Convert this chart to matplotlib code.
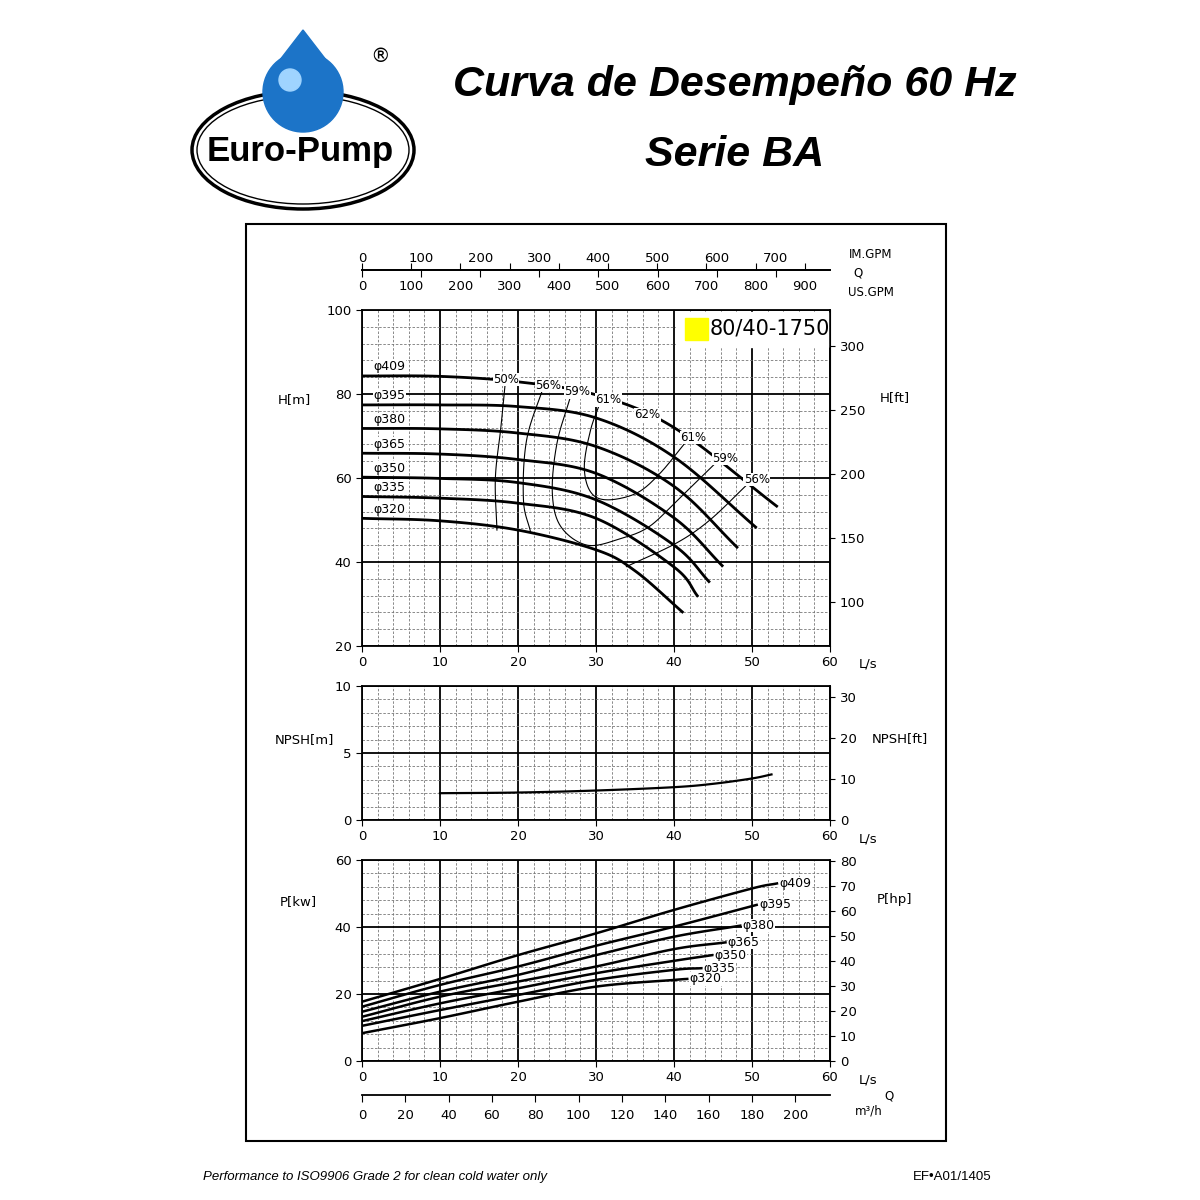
import numpy as np
import matplotlib
matplotlib.use("Agg")
import matplotlib.pyplot as plt
from matplotlib.patches import Ellipse, Rectangle, Polygon, Circle
from matplotlib.ticker import MultipleLocator

plt.rcParams['font.family'] = ['DejaVu Sans']

diameters = ["φ409", "φ395", "φ380", "φ365", "φ350", "φ335", "φ320"]
head_q = [
    [0, 10, 20, 30, 40, 53.3],
    [0, 10, 20, 30, 40, 50.6],
    [0, 10, 20, 30, 40, 48.2],
    [0, 10, 20, 30, 40, 46.3],
    [0, 10, 20, 30, 40, 44.6],
    [0, 10, 20, 30, 40, 43.1],
    [0, 10, 20, 30, 35, 41.2],
]
head_h = [
    [84.3, 84.2, 82.9, 79.8, 72.0, 53.1],
    [77.4, 77.4, 77.0, 74.3, 65.0, 48.1],
    [71.8, 71.7, 70.7, 67.5, 58.0, 43.3],
    [65.9, 65.7, 64.4, 61.1, 50.5, 38.9],
    [60.2, 59.9, 58.9, 54.8, 44.0, 35.1],
    [55.6, 55.2, 54.0, 50.4, 38.8, 31.7],
    [50.4, 49.8, 47.6, 42.9, 37.9, 27.9],
]
eff_lines_q = [
    [18.4, 17.8, 17.1, 17.3],
    [23.3, 21.1, 20.7, 21.6],
    [26.8, 25.0, 24.4, 25.5, 28.9, 33.2, 36.8, 40.5, 45.3],
    [30.5, 29.3, 28.5, 29.3, 31.4, 35.2, 38.2, 41.4],
    [49.3, 44.6, 40.3, 33.9],
]
eff_lines_h = [
    [83.3, 72.0, 60.0, 47.6],
    [81.9, 69.0, 54.8, 47.2],
    [79.8, 68.3, 56.4, 48.4, 44.0, 45.6, 48.4, 54.8, 63.5],
    [77.8, 71.4, 62.7, 56.7, 54.8, 56.4, 61.1, 68.3],
    [58.3, 50.0, 44.5, 38.9],
]
eff_labels = ["50%", "56%", "59%", "61%", "62%", "61%", "59%", "56%"]
eff_label_q = [18.5, 23.9, 27.6, 31.6, 36.6, 42.5, 46.6, 50.6]
eff_label_h = [83.5, 82.0, 80.5, 78.6, 75.0, 69.6, 64.6, 59.6]

npsh_q = [10, 20, 30, 40, 45, 50, 52.5]
npsh_m = [2.0, 2.05, 2.2, 2.45, 2.7, 3.1, 3.4]

power_q = [
    [0, 10, 20, 30, 40, 50, 53.2],
    [0, 10, 20, 30, 40, 50.6],
    [0, 10, 20, 30, 40, 48.5],
    [0, 10, 20, 30, 40, 46.6],
    [0, 10, 20, 30, 40, 44.9],
    [0, 10, 20, 30, 40, 43.5],
    [0, 10, 20, 30, 40, 41.7],
]
power_kw = [
    [17.7, 24.5, 31.6, 38.1, 45.1, 51.5, 53.0],
    [16.2, 22.7, 28.2, 34.4, 40.1, 46.6],
    [14.7, 20.7, 25.7, 31.6, 37.1, 40.4],
    [13.2, 19.2, 23.7, 28.2, 33.4, 35.4],
    [11.9, 17.2, 21.7, 26.2, 29.9, 31.6],
    [10.5, 15.2, 19.7, 24.2, 27.2, 27.7],
    [8.3, 12.8, 17.7, 22.2, 24.2, 24.5],
]


def smooth(x, y, n=20):
    """Catmull-Rom rendering through the given points (drawing only)."""
    x = np.asarray(x, float); y = np.asarray(y, float)
    if len(x) < 3:
        return x, y
    P = np.column_stack([x, y])
    P = np.vstack([2 * P[0] - P[1], P, 2 * P[-1] - P[-2]])
    out = []
    t = np.linspace(0, 1, n, endpoint=False)[:, None]
    for i in range(1, len(P) - 2):
        p0, p1, p2, p3 = P[i - 1], P[i], P[i + 1], P[i + 2]
        seg = 0.5 * ((2 * p1) + (-p0 + p2) * t + (2 * p0 - 5 * p1 + 4 * p2 - p3) * t ** 2
                     + (-p0 + 3 * p1 - 3 * p2 + p3) * t ** 3)
        out.append(seg)
    out.append(P[-2][None, :])
    out = np.vstack(out)
    return out[:, 0], out[:, 1]


fig = plt.figure(figsize=(12, 12), dpi=100)
W = H = 1200.0

def fx(px): return px / W
def fy(py): return 1 - py / H

fig.patches.append(Rectangle((fx(246), fy(1141)), (946-246)/W, (1141-224)/H,
                             transform=fig.transFigure, fill=False, lw=1.5, ec='black'))

# logo
ov = fig.add_axes([0, 0, 1, 1], zorder=-5); ov.set_xlim(0, 1200); ov.set_ylim(1200, 0); ov.axis('off')
ov.add_patch(Ellipse((303, 150), 222, 118, fill=False, lw=2.5, ec='black'))
ov.add_patch(Ellipse((303, 150), 212, 108, fill=False, lw=1, ec='black'))
ov.add_patch(Circle((303, 92), 40, color='#1c74c8', zorder=3))
ov.add_patch(Polygon([[266, 78], [303, 30], [340, 78]], color='#1c74c8', zorder=3))
ov.add_patch(Circle((290, 80), 11, color='#9fd4ff', zorder=4))
ov.text(300, 152, "Euro-Pump", fontsize=25, fontweight='bold', ha='center', va='center',
        family='Liberation Sans', zorder=5, color='black', stretch='condensed')
ov.text(380, 57, "®", fontsize=14, ha='center', va='center')
fig.text(fx(735), fy(85), "Curva de Desempeño 60 Hz", fontsize=31, fontweight='bold',
         style='italic', ha='center', va='center', family='Liberation Sans')
fig.text(fx(735), fy(155), "Serie BA", fontsize=31, fontweight='bold',
         style='italic', ha='center', va='center', family='Liberation Sans')
fig.text(fx(203), fy(1177), "Performance to ISO9906 Grade 2 for clean cold water only",
         fontsize=9.5, style='italic', ha='left', va='center', family='Liberation Sans')
fig.text(fx(992), fy(1177), "EF•A01/1405", fontsize=9.5, ha='right', va='center',
         family='Liberation Sans')

L, Wd = fx(362), (830-362)/W

def grid_axes(rect, ymin, ymax, ymaj, ymin_step):
    ax = fig.add_axes(rect)
    ax.set_xlim(0, 60); ax.set_ylim(ymin, ymax)
    ax.xaxis.set_major_locator(MultipleLocator(10))
    ax.xaxis.set_minor_locator(MultipleLocator(2))
    ax.yaxis.set_major_locator(MultipleLocator(ymaj))
    ax.yaxis.set_minor_locator(MultipleLocator(ymin_step))
    ax.grid(which='major', color='black', lw=1.3)
    ax.grid(which='minor', color='#777777', lw=0.6, ls=(0, (3, 2)))
    ax.tick_params(labelsize=9.5, length=4)
    ax.tick_params(which='minor', length=0)
    for s in ax.spines.values(): s.set_linewidth(1.3)
    ax.set_axisbelow(True)
    return ax

# Head
axH = grid_axes([L, fy(646), Wd, (646-310)/H], 20, 100, 20, 4)
for d, q, h in zip(diameters, head_q, head_h):
    axH.plot(*smooth(q, h), color='black', lw=2.0, solid_capstyle='butt')
    axH.text(1.5, h[0] + 0.6, d, fontsize=9, va='bottom', ha='left',
             bbox=dict(fc='white', ec='none', pad=0.3))
for q, h in zip(eff_lines_q, eff_lines_h):
    axH.plot(*smooth(q, h), color='black', lw=0.8)
for t, q, h in zip(eff_labels, eff_label_q, eff_label_h):
    axH.text(q, h, t, fontsize=8.5, ha='center', va='center',
             bbox=dict(fc='white', ec='none', pad=0.2))
axH.add_patch(Rectangle((0.69, 0.911), 0.049, 0.065, transform=axH.transAxes,
                        color='yellow', zorder=5))
axH.text(0.743, 0.945, "80/40-1750", transform=axH.transAxes, fontsize=15,
         ha='left', va='center', zorder=6)
axH.add_patch(Rectangle((0.67, 0.89), 0.325, 0.105, transform=axH.transAxes,
                        color='white', zorder=4))
axH2 = axH.secondary_yaxis('right', functions=(lambda m: m * 3.281, lambda f: f / 3.281))
axH2.set_yticks([100, 150, 200, 250, 300]); axH2.tick_params(labelsize=9.5)
fig.text(fx(294), fy(400), "H[m]", fontsize=9.5, ha='center', va='center')
fig.text(fx(895), fy(398), "H[ft]", fontsize=9.5, ha='center', va='center')
fig.text(fx(868), fy(664), "L/s", fontsize=9.5, ha='center', va='center')

# top GPM axes
axI = fig.add_axes([L, fy(270), Wd, 0.0001])
axI.set_xlim(0, 60 / 0.07577)
for s in ['left', 'right', 'bottom']: axI.spines[s].set_visible(False)
axI.spines['top'].set_linewidth(1.3)
axI.xaxis.tick_top(); axI.set_xticks(range(0, 800, 100)); axI.set_yticks([])
axI.tick_params(labelsize=9.5, length=5, direction='in')
axU = fig.add_axes([L, fy(270), Wd, 0.0001])
axU.set_xlim(0, 60 / 0.06309); axU.patch.set_alpha(0)
for s in ['left', 'right', 'top']: axU.spines[s].set_visible(False)
axU.spines['bottom'].set_linewidth(1.3)
axU.set_xticks(range(0, 1000, 100)); axU.set_yticks([])
axU.tick_params(labelsize=9.5, length=5, direction='in', pad=7)
fig.text(fx(871), fy(254), "IM.GPM", fontsize=8.5, ha='center', va='center')
fig.text(fx(858), fy(273), "Q", fontsize=8.5, ha='center', va='center')
fig.text(fx(871), fy(292), "US.GPM", fontsize=8.5, ha='center', va='center')

# NPSH
axN = grid_axes([L, fy(820), Wd, (820-686)/H], 0, 10, 5, 1)
axN.plot(*smooth(npsh_q, npsh_m), color='black', lw=1.6)
axN2 = axN.secondary_yaxis('right', functions=(lambda m: m * 3.281, lambda f: f / 3.281))
axN2.set_yticks([0, 10, 20, 30]); axN2.tick_params(labelsize=9.5)
fig.text(fx(304), fy(740), "NPSH[m]", fontsize=9.5, ha='center', va='center')
fig.text(fx(900), fy(739), "NPSH[ft]", fontsize=9.5, ha='center', va='center')
fig.text(fx(868), fy(839), "L/s", fontsize=9.5, ha='center', va='center')

# Power
axP = grid_axes([L, fy(1061), Wd, (1061-860)/H], 0, 60, 20, 4)
for d, q, p in zip(diameters, power_q, power_kw):
    axP.plot(*smooth(q, p), color='black', lw=1.8)
    axP.text(q[-1] + 0.3, p[-1], d, fontsize=9, ha='left', va='center',
             bbox=dict(fc='white', ec='none', pad=0.2))
axP2 = axP.secondary_yaxis('right', functions=(lambda k: k * 1.341, lambda h: h / 1.341))
axP2.set_yticks(range(0, 90, 10)); axP2.tick_params(labelsize=9.5)
fig.text(fx(298), fy(902), "P[kw]", fontsize=9.5, ha='center', va='center')
fig.text(fx(895), fy(900), "P[hp]", fontsize=9.5, ha='center', va='center')
fig.text(fx(868), fy(1080), "L/s", fontsize=9.5, ha='center', va='center')

# m3/h axis
axM = fig.add_axes([L, fy(1095), Wd, 0.0001])
axM.set_xlim(0, 60 * 3.6)
for s in ['left', 'right', 'bottom']: axM.spines[s].set_visible(False)
axM.spines['top'].set_linewidth(1.3)
axM.xaxis.set_ticks_position('top')
axM.set_xticks(range(0, 220, 20)); axM.set_yticks([])
axM.tick_params(labelsize=9.5, length=5, direction='in', labeltop=False, labelbottom=True, pad=10)
fig.text(fx(889), fy(1096), "Q", fontsize=8.5, ha='center', va='center')
fig.text(fx(869), fy(1111), "m³/h", fontsize=8.5, ha='center', va='center')

fig.savefig("out.png", dpi=100, facecolor='white')
